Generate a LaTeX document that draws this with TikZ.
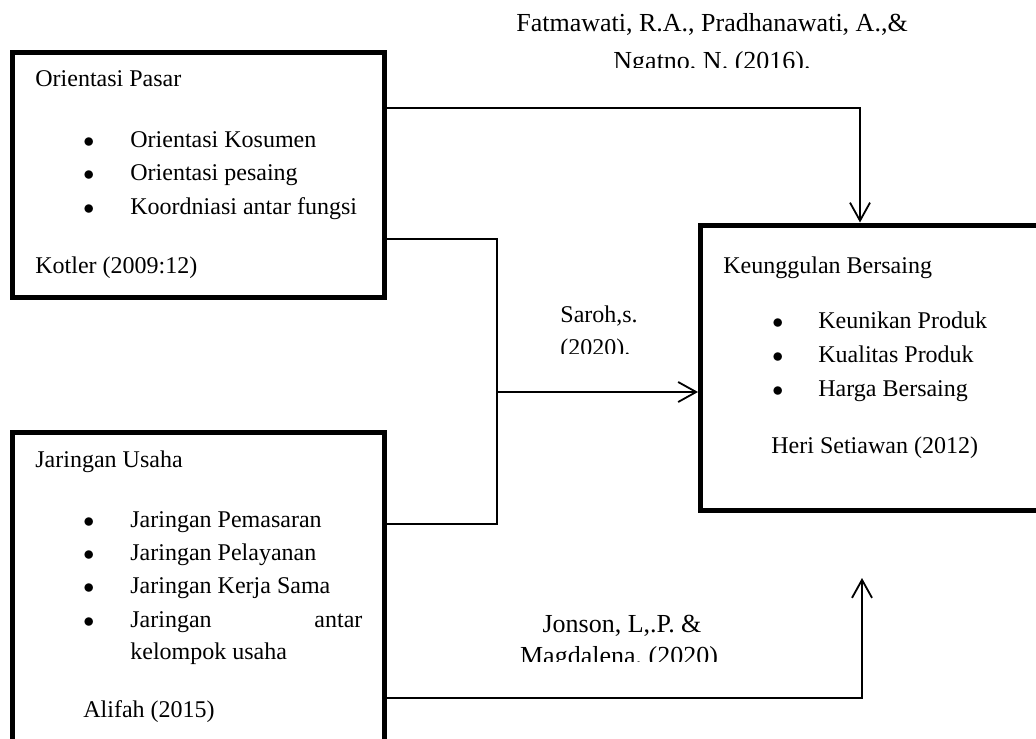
\documentclass[tikz,border=0pt]{standalone}
\usepackage{fontspec}
\setmainfont{Liberation Serif}
\usetikzlibrary{arrows.meta}

\tikzset{
  kotak/.style={draw, line width=2.5pt, inner sep=0pt},
  garis/.style={line width=0.9pt},
  panah/.style={garis, -{Straight Barb[length=9pt,width=10pt]}},
  isi/.style={inner sep=0pt, anchor=base west, font=\fontsize{12}{14}\selectfont},
  sumber/.style={inner sep=0pt, anchor=base, font=\fontsize{13}{15}\selectfont},
  titik/.style={isi, font=\fontsize{11}{14}\selectfont},
}

\begin{document}
\begin{tikzpicture}[x=0.5pt,y=-0.5pt]
                \clip (0,0) rectangle (1036,738);
                % kotak variabel
                \node[kotak, minimum width=186pt, minimum height=122.5pt] (pasar) at (198.5,175) {};
                \node[kotak, minimum width=186pt, minimum height=173.75pt] (usaha) at (198,606.25) {};
                \node[kotak, minimum width=184.75pt, minimum height=142.75pt] (unggul) at (885.25,367.75) {};
                % isi orientasi pasar
                \node[isi] (p0) at (35,86) {Orientasi Pasar};
                \node[titik] (pb1) at (83,147) {$\bullet$};
                \node[titik] (pb2) at (83,180) {$\bullet$};
                \node[titik] (pb3) at (83,214) {$\bullet$};
                \node[isi] (p1) at (130,147) {Orientasi Kosumen};
                \node[isi] (p2) at (130,180) {Orientasi pesaing};
                \node[isi] (p3) at (130,214) {Koordniasi antar fungsi};
                \node[isi] (p4) at (35,273) {Kotler (2009:12)};
                % isi jaringan usaha
                \node[isi] (u0) at (35,467) {Jaringan Usaha};
                \node[titik] (ub1) at (83,527) {$\bullet$};
                \node[titik] (ub2) at (83,560) {$\bullet$};
                \node[titik] (ub3) at (83,593) {$\bullet$};
                \node[titik] (ub4) at (83,627) {$\bullet$};
                \node[isi] (u1) at (130,527) {Jaringan Pemasaran};
                \node[isi] (u2) at (130,560) {Jaringan Pelayanan};
                \node[isi] (u3) at (130,593) {Jaringan Kerja Sama};
                \node[isi, text width=116pt] (u4) at (130,627) {Jaringan\hfill antar};
                \node[isi] (u5) at (130,659) {kelompok usaha};
                \node[isi] (u6) at (83,717) {Alifah (2015)};
                % isi keunggulan bersaing
                \node[isi] (k0) at (723,273) {Keunggulan Bersaing};
                \node[titik] (kb1) at (772,328) {$\bullet$};
                \node[titik] (kb2) at (772,362) {$\bullet$};
                \node[titik] (kb3) at (772,396) {$\bullet$};
                \node[isi] (k1) at (818,328) {Keunikan Produk};
                \node[isi] (k2) at (818,362) {Kualitas Produk};
                \node[isi] (k3) at (818,396) {Harga Bersaing};
                \node[isi] (k4) at (771,453) {Heri Setiawan (2012)};
                % sumber di atas garis
                \node[sumber] (fat1) at (712,32) {Fatmawati, R.A., Pradhanawati, A.,\&};
                \begin{scope}
                    \clip (500,0) rectangle (1036,68);
                    \node[sumber] (fat2) at (712,69) {Ngatno, N. (2016).};
                \end{scope}
                \node[isi] (sar1) at (560,322) {Saroh,s.};
                \begin{scope}
                    \clip (500,300) rectangle (700,353);
                    \node[isi] (sar2) at (560,355) {(2020).};
                \end{scope}
                \node[sumber] (jon1) at (622,632) {Jonson, L,.P. \&};
                \begin{scope}
                    \clip (480,600) rectangle (760,661);
                    \node[sumber] (jon2) at (619,664) {Magdalena, (2020)};
                \end{scope}
                % garis penghubung
                \coordinate (temu) at (497,392);
                \coordinate (ujung) at (862,578);
                \draw[panah] (pasar.east |- 0,108) -| (unggul.north -| 860,0);
                \draw[garis] (pasar.east |- 0,239) -| (temu);
                \draw[garis] (usaha.east |- 0,524) -| (temu);
                \draw[panah] (temu) -- (unggul.west |- temu);
                \draw[panah] (usaha.east |- 0,698) -| (ujung);
            \end{tikzpicture}
\end{document}
